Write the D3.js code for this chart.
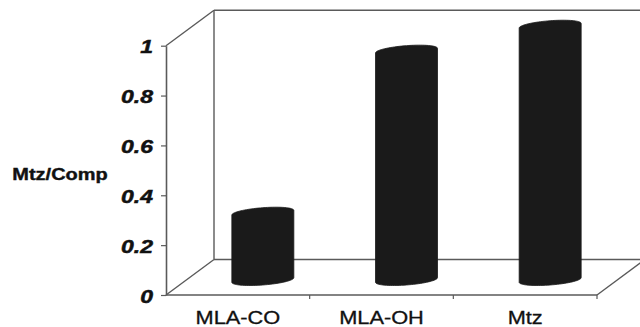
<!DOCTYPE html>
<html>
<head>
<meta charset="utf-8">
<script src="https://cdn.jsdelivr.net/npm/d3@7"></script>
<style>
  html, body { margin: 0; padding: 0; background: #fff; }
  svg { display: block; }
  text { font-family: "Liberation Sans", Arial, sans-serif; fill: #111; }
</style>
</head>
<body>
<svg id="chart" width="640" height="327"></svg>
<script>
// Data
const categories = ["MLA-CO", "MLA-OH", "Mtz"];
const ratios = [0.27, 0.92, 1.02];
const tickValues = [0, 0.2, 0.4, 0.6, 0.8, 1];
const tickLabels = ["0", "0.2", "0.4", "0.6", "0.8", "1"];
const axisTitle = "Mtz/Comp";

// Geometry of the 3-D box
const W = 640, H = 327;
const frontLeft = 166, frontRight = 597;
const depth = { dx: 48, dy: -35.5 };      // front plane -> back wall
const barShift = { dx: 25, dy: -15 };     // front plane -> cylinder axis plane
const stretch = 1.21;                      // horizontal text stretch
const lineColor = "#5a5a5a";

const svg = d3.select("#chart");

const x = d3.scaleBand().domain(categories).range([frontLeft, frontRight]).padding(0);
const y = d3.scaleLinear().domain([0, 1]).range([295, 45.7]);

// Walls and floor outline
const walls = svg.append("g")
  .attr("fill", "none")
  .attr("stroke", lineColor)
  .attr("stroke-width", 1.4);

const y0 = y(0), y1 = y(1);
const bx = frontLeft + depth.dx;
const segs = [
  // back wall left edge and top
  [[bx, y0 + depth.dy], [bx, y1 + depth.dy]],
  [[bx, y1 + depth.dy], [W + 10, y1 + depth.dy]],
  [[frontLeft, y1], [bx, y1 + depth.dy]],
  // floor
  [[bx, y0 + depth.dy], [W + 10, y0 + depth.dy]],
  [[frontLeft, y0], [bx, y0 + depth.dy]],
  [[frontLeft, y0], [frontRight, y0]],
  [[frontRight, y0], [frontRight + depth.dx, y0 + depth.dy]]
];
walls.selectAll("line").data(segs).join("line")
  .attr("x1", d => d[0][0]).attr("y1", d => d[0][1])
  .attr("x2", d => d[1][0]).attr("y2", d => d[1][1]);

// Cylinders
const halfW = 31, ea = 13, eb = 5.5;
const R = Math.sqrt(halfW * halfW - ea * ea);
const t1 = Math.atan2(ea, R);
const yBar = d3.scaleLinear().domain([0, 1]).range([y(0) + barShift.dy, y(1) + barShift.dy]);

function ellipsePoint(cx, cy, t) {
  return [cx + R * Math.cos(t) + ea * Math.sin(t), cy - eb * Math.sin(t)];
}
function cylinderPath(cx, yTop, yBase) {
  const p = d3.path();
  const n = 40;
  // upper arc of the top ellipse, left to right
  for (let i = 0; i <= n; i++) {
    const t = t1 + Math.PI - (Math.PI * i) / n;
    const [px, py] = ellipsePoint(cx, yTop, t);
    if (i === 0) p.moveTo(px, py); else p.lineTo(px, py);
  }
  // lower arc of the base ellipse, right to left
  for (let i = 0; i <= n; i++) {
    const t = t1 - (Math.PI * i) / n;
    const [px, py] = ellipsePoint(cx, yBase, t);
    p.lineTo(px, py);
  }
  p.closePath();
  return p.toString();
}

svg.append("g").selectAll("path")
  .data(categories.map((c, i) => ({ c, v: ratios[i] })))
  .join("path")
  .attr("d", d => {
    const cx = x(d.c) + x.bandwidth() / 2 + barShift.dx;
    return cylinderPath(cx, yBar(d.v), yBar(0));
  })
  .attr("fill", "#1a1a1a")
  .attr("stroke", "#1a1a1a")
  .attr("stroke-width", 0.8);

// Value axis
const yAxis = d3.axisLeft(y)
  .tickValues(tickValues)
  .tickFormat((d, i) => tickLabels[i])
  .tickSize(5)
  .tickSizeOuter(0);

svg.append("g")
  .attr("transform", `translate(${frontLeft},0)`)
  .call(yAxis)
  .call(g => g.select(".domain").attr("stroke", lineColor).attr("stroke-width", 1.6))
  .call(g => g.selectAll(".tick line").attr("stroke", lineColor).attr("stroke-width", 1.2))
  .call(g => g.selectAll(".tick text")
    .attr("x", 0).attr("dy", null)
    .attr("transform", `translate(-13,7) scale(${stretch},1)`)
    .attr("text-anchor", "end")
    .style("font-family", "'Liberation Sans', Arial, sans-serif")
    .style("font-size", "19px")
    .style("font-weight", "bold")
    .style("font-style", "italic")
    .attr("fill", "#111")
    .attr("stroke", "#111")
    .attr("stroke-width", 0.5));

// Category axis ticks and labels on the front floor edge
const catAxis = d3.axisBottom(x).tickSize(0).tickSizeOuter(0);
const cg = svg.append("g").attr("transform", `translate(0,${y0})`).call(catAxis);
cg.select(".domain").remove();
cg.selectAll(".tick text")
  .attr("y", 0).attr("dy", null)
  .attr("transform", `translate(0,29) scale(${stretch},1)`)
  .style("font-family", "'Liberation Sans', Arial, sans-serif")
  .style("font-size", "18px")
  .attr("fill", "#111")
  .attr("stroke", "#111")
  .attr("stroke-width", 0.3);

svg.append("g").selectAll("line")
  .data(categories.slice(1).map(c => x(c)).concat([frontRight]))
  .join("line")
  .attr("x1", d => d).attr("x2", d => d)
  .attr("y1", y0).attr("y2", y0 + 4)
  .attr("stroke", lineColor).attr("stroke-width", 1.2);

// Axis title
svg.append("text")
  .attr("transform", `translate(60,180) scale(${stretch},1)`)
  .attr("text-anchor", "middle")
  .attr("stroke", "#111")
  .attr("stroke-width", 0.4)
  .style("font-size", "16.5px")
  .style("font-weight", "bold")
  .text(axisTitle);
</script>
</body>
</html>
